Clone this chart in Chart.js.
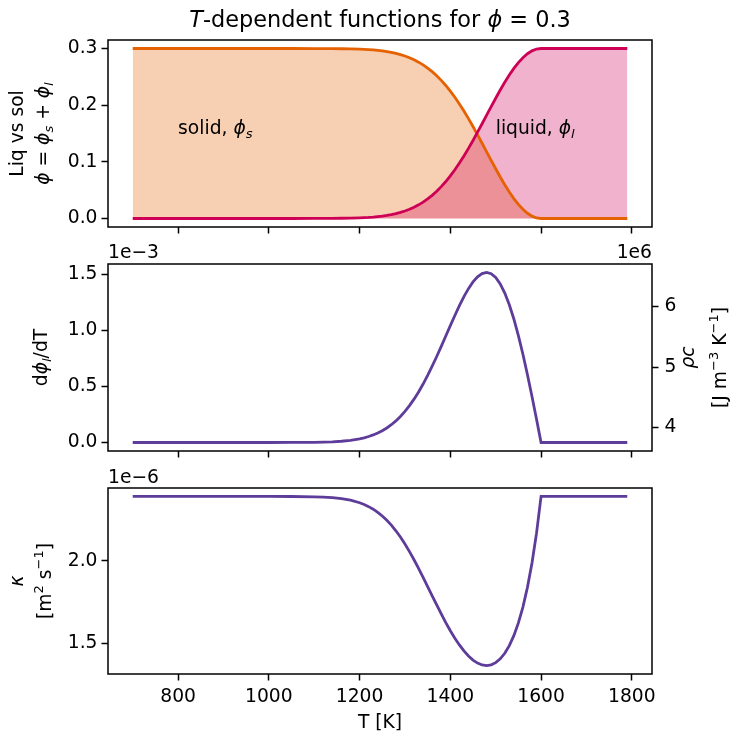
<!DOCTYPE html>
<html>
<head>
<meta charset="utf-8">
<script src="https://cdn.jsdelivr.net/npm/chart.js@4.4.1/dist/chart.umd.min.js"></script>
<style>
  body { margin: 0; background: #fff; }
  #wrap { position: relative; width: 730px; height: 738px; background: #fff; }
  #wrap canvas { position: absolute; left: 0; top: 0; }
</style>
</head>
<body>
<div id="wrap">
  <canvas id="c1" width="730" height="738"></canvas>
  <canvas id="c2" width="730" height="738"></canvas>
  <canvas id="c3" width="730" height="738"></canvas>
</div>
<script>
// temperature samples [K]
const T = [700, 800, 900, 1000, 1050, 1100, 1120, 1140, 1160, 1180,
  1200, 1210, 1220, 1230, 1240, 1250, 1260, 1270, 1280, 1290,
  1300, 1310, 1320, 1330, 1340, 1350, 1360, 1370, 1380, 1390,
  1400, 1410, 1420, 1430, 1440, 1450, 1460, 1470, 1480, 1490,
  1500, 1510, 1520, 1530, 1540, 1550, 1560, 1570, 1580, 1590,
  1600, 1650, 1700, 1750, 1790];

// liquid fraction phi_l
const phiLiq = [0, 0, 0, 0, 0, 0.0001, 0.0001, 0.0002, 0.0004, 0.0007,
  0.0012, 0.0016, 0.0020, 0.0026, 0.0034, 0.0043, 0.0055, 0.0069, 0.0087, 0.0108,
  0.0133, 0.0163, 0.0199, 0.0241, 0.0289, 0.0345, 0.0409, 0.0481, 0.0562, 0.0652,
  0.0752, 0.0860, 0.0978, 0.1104, 0.1237, 0.1377, 0.1523, 0.1672, 0.1823, 0.1974,
  0.2122, 0.2267, 0.2404, 0.2532, 0.2649, 0.2751, 0.2838, 0.2908, 0.2959, 0.2990,
  0.3, 0.3, 0.3, 0.3, 0.3];

// solid fraction phi_s
const phiSol = [0.3, 0.3, 0.3, 0.3, 0.3, 0.2999, 0.2999, 0.2998, 0.2996, 0.2993,
  0.2988, 0.2984, 0.2980, 0.2974, 0.2966, 0.2957, 0.2945, 0.2931, 0.2913, 0.2892,
  0.2867, 0.2837, 0.2801, 0.2759, 0.2711, 0.2655, 0.2591, 0.2519, 0.2438, 0.2348,
  0.2248, 0.2140, 0.2022, 0.1896, 0.1763, 0.1623, 0.1477, 0.1328, 0.1177, 0.1026,
  0.0878, 0.0733, 0.0596, 0.0468, 0.0351, 0.0249, 0.0162, 0.0092, 0.0041, 0.0010,
  0, 0, 0, 0, 0];

// dphi_l/dT in units of 1e-3
const dPhi = [0, 0, 0, 0, 0.0003, 0.0019, 0.0034, 0.0063, 0.0112, 0.0194,
  0.0327, 0.0419, 0.0534, 0.0674, 0.0844, 0.1049, 0.1293, 0.1582, 0.1921, 0.2314,
  0.2766, 0.3279, 0.3858, 0.4499, 0.5205, 0.5970, 0.6790, 0.7656, 0.8558, 0.9480,
  1.0405, 1.1312, 1.2179, 1.2984, 1.3698, 1.4296, 1.4752, 1.5039, 1.5137, 1.5025,
  1.4688, 1.4118, 1.3310, 1.2266, 1.0998, 0.9520, 0.7857, 0.6037, 0.4095, 0.2069,
  0, 0, 0, 0, 0];

// kappa in units of 1e-6 m^2/s
const kappa = [2.39, 2.39, 2.39, 2.39, 2.3896, 2.3878, 2.3860, 2.3826, 2.3768, 2.3672,
  2.3519, 2.3414, 2.3283, 2.3127, 2.2940, 2.2718, 2.2459, 2.2161, 2.1821, 2.1439,
  2.1017, 2.0557, 2.0061, 1.9540, 1.8996, 1.8440, 1.7879, 1.7322, 1.6778, 1.6256,
  1.5764, 1.5310, 1.4899, 1.4538, 1.4231, 1.3984, 1.3801, 1.3689, 1.3651, 1.3694,
  1.3827, 1.4057, 1.4396, 1.4860, 1.5464, 1.6234, 1.7198, 1.8392, 1.9865, 2.1676,
  2.39, 2.39, 2.39, 2.39, 2.39];

// tick values
const tTicks = [800, 1000, 1200, 1400, 1600, 1800];
const phiTicks = [0.0, 0.1, 0.2, 0.3];
const dPhiTicks = [0.0, 0.5, 1.0, 1.5];
const rhoCTicks = [4, 5, 6];
const kappaTicks = [1.5, 2.0];

const W = 730, H = 738;
const LEFT = 108, RIGHT = 652;
const FONT = '"DejaVu Sans"';
const FS = 18.7;

const fnt = (size, it) => (it ? 'italic ' : '') + size + 'px ' + FONT;
const pts = ys => T.map((t, i) => ({ x: t, y: ys[i] }));

// draws mixed italic / sub / superscript text, rot = rotated 90deg ccw
function drawRich(ctx, segs, x, y, size, align, rot) {
  ctx.save();
  ctx.fillStyle = '#000';
  ctx.textBaseline = 'alphabetic';
  ctx.textAlign = 'left';
  const parts = segs.map(([t, f]) => {
    const small = f.includes('_') || f.includes('^');
    const font = fnt(small ? size * 0.7 : size, f.includes('i'));
    ctx.font = font;
    const dy = f.includes('_') ? size * 0.22 : f.includes('^') ? -size * 0.42 : 0;
    return { t, font, dy, w: ctx.measureText(t).width };
  });
  const total = parts.reduce((a, p) => a + p.w, 0);
  ctx.translate(x, y);
  if (rot) ctx.rotate(-Math.PI / 2);
  let cx = align === 'center' ? -total / 2 : align === 'right' ? -total : 0;
  for (const p of parts) {
    ctx.font = p.font;
    ctx.fillText(p.t, cx, p.dy);
    cx += p.w;
  }
  ctx.restore();
}

const framePlugin = {
  id: 'frame',
  afterDatasetsDraw(chart) {
    const { ctx, chartArea: a } = chart;
    ctx.save();
    ctx.strokeStyle = '#000';
    ctx.lineWidth = 1.5;
    ctx.strokeRect(a.left, a.top, a.right - a.left, a.bottom - a.top);
    ctx.restore();
  }
};

const tickGrid = { drawOnChartArea: false, drawTicks: true, tickLength: 6.5, tickWidth: 1.5, tickColor: '#000' };

function xScale(bottom, showLabels) {
  return {
    type: 'linear', position: 'bottom', min: 645.5, max: 1844.5,
    afterBuildTicks: s => { s.ticks = tTicks.map(v => ({ value: v })); },
    afterFit: s => { s.height = H - bottom; },
    grid: tickGrid,
    border: { display: false },
    ticks: { display: showLabels, font: { family: 'DejaVu Sans', size: FS }, color: '#000', padding: 5,
      maxRotation: 0, autoSkip: false, callback: v => String(v) }
  };
}

function yScale(pos, min, max, ticks, width, pad, fmt) {
  return {
    type: 'linear', position: pos, min, max,
    afterBuildTicks: s => { s.ticks = ticks.map(v => ({ value: v })); },
    afterFit: s => { s.width = width; },
    grid: tickGrid,
    border: { display: false },
    ticks: { font: { family: 'DejaVu Sans', size: FS }, color: '#000', padding: pad, callback: fmt }
  };
}

const baseOpts = (top, padRight) => ({
  responsive: false,
  animation: false,
  devicePixelRatio: 1,
  layout: { padding: { top, bottom: 0, left: 0, right: padRight } },
  plugins: { legend: { display: false }, tooltip: { enabled: false }, filler: { drawTime: 'beforeDatasetsDraw' } },
  elements: { point: { radius: 0 }, line: { borderWidth: 2.8, tension: 0 } }
});

// panel 1: liquid vs solid fraction
new Chart(document.getElementById('c1'), {
  type: 'line',
  data: {
    datasets: [
      { label: 'liquid', data: pts(phiLiq), borderColor: '#cd0055', backgroundColor: 'rgba(205,0,85,0.3)', fill: 'origin' },
      { label: 'solid', data: pts(phiSol), borderColor: '#e66101', backgroundColor: 'rgba(230,97,1,0.3)', fill: 'origin' }
    ]
  },
  options: Object.assign(baseOpts(40, W - RIGHT), {
    scales: {
      x: xScale(227, false),
      y: yScale('left', -0.015, 0.315, phiTicks, LEFT, 4, v => v.toFixed(1))
    }
  }),
  plugins: [framePlugin, {
    id: 'txt1',
    afterDraw(chart) {
      const { ctx, chartArea: a, scales } = chart;
      const cy = (a.top + a.bottom) / 2;
      drawRich(ctx, [['T', 'i'], ['-dependent functions for ', ''], ['ϕ', 'i'], [' = 0.3', '']], (a.left + a.right) / 2, 27, 22.4, 'center');
      drawRich(ctx, [['Liq vs sol', '']], 23, cy, FS, 'center', true);
      drawRich(ctx, [['ϕ', 'i'], [' = ', ''], ['ϕ', 'i'], ['s', 'i_'], [' + ', ''], ['ϕ', 'i'], ['l', 'i_']], 49, cy, FS, 'center', true);
      const yv = scales.y.getPixelForValue(0.15);
      drawRich(ctx, [['solid, ', ''], ['ϕ', 'i'], ['s', 'i_']], scales.x.getPixelForValue(800), yv, FS, 'left');
      drawRich(ctx, [['liquid, ', ''], ['ϕ', 'i'], ['l', 'i_']], scales.x.getPixelForValue(1500), yv, FS, 'left');
    }
  }]
});

// panel 2: dphi_l/dT and rho*c
new Chart(document.getElementById('c2'), {
  type: 'line',
  data: {
    datasets: [
      { label: 'dphi', data: pts(dPhi), borderColor: '#5e3c99', fill: false, yAxisID: 'y' }
    ]
  },
  options: Object.assign(baseOpts(264, 0), {
    scales: {
      x: xScale(451, false),
      y: yScale('left', -0.0757, 1.5894, dPhiTicks, LEFT, 4, v => v.toFixed(1)),
      y2: yScale('right', 3.609, 6.706, rhoCTicks, W - RIGHT, 6, v => String(v))
    }
  }),
  plugins: [framePlugin, {
    id: 'txt2',
    afterDraw(chart) {
      const { ctx, chartArea: a } = chart;
      const cy = (a.top + a.bottom) / 2;
      drawRich(ctx, [['d', ''], ['ϕ', 'i'], ['l', 'i_'], ['/dT', '']], 47, cy, FS, 'center', true);
      drawRich(ctx, [['ρc', 'i']], 694, cy, FS, 'center', true);
      drawRich(ctx, [['[J m', ''], ['−3', '^'], [' K', ''], ['−1', '^'], [']', '']], 726, cy, FS, 'center', true);
      drawRich(ctx, [['1e−3', '']], a.left, a.top - 6, FS, 'left');
      drawRich(ctx, [['1e6', '']], a.right, a.top - 6, FS, 'right');
    }
  }]
});

// panel 3: thermal diffusivity
new Chart(document.getElementById('c3'), {
  type: 'line',
  data: {
    datasets: [
      { label: 'kappa', data: pts(kappa), borderColor: '#5e3c99', fill: false }
    ]
  },
  options: Object.assign(baseOpts(488, W - RIGHT), {
    scales: {
      x: xScale(674, true),
      y: yScale('left', 1.3139, 2.4412, kappaTicks, LEFT, 4, v => v.toFixed(1))
    }
  }),
  plugins: [framePlugin, {
    id: 'txt3',
    afterDraw(chart) {
      const { ctx, chartArea: a } = chart;
      const cy = (a.top + a.bottom) / 2;
      drawRich(ctx, [['κ', 'i']], 23, cy, FS, 'center', true);
      drawRich(ctx, [['[m', ''], ['2', '^'], [' s', ''], ['−1', '^'], [']', '']], 51, cy, FS, 'center', true);
      drawRich(ctx, [['1e−6', '']], a.left, a.top - 5, FS, 'left');
      drawRich(ctx, [['T [K]', '']], (a.left + a.right) / 2, 728, FS, 'center');
    }
  }]
});
</script>
</body>
</html>
